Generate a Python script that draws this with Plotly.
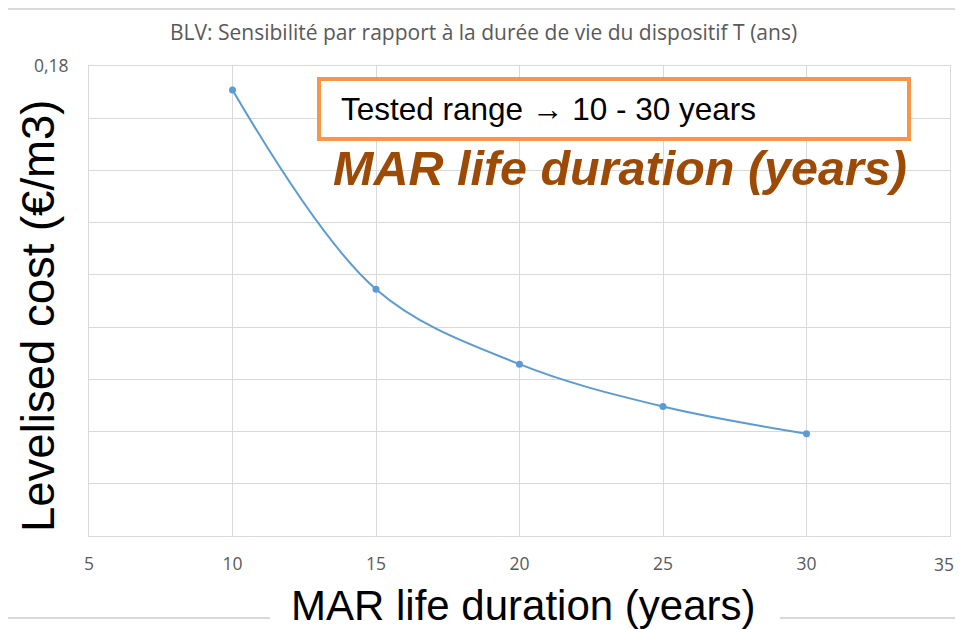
import plotly.graph_objects as go

life_years = [10, 15, 20, 25, 30]
levelised_cost = [0.1708, 0.0945, 0.0658, 0.0496, 0.0392]

y_tickvals = [0.0, 0.02, 0.04, 0.06, 0.08, 0.10, 0.12, 0.14, 0.16, 0.18]
y_ticktext = ["", "", "", "", "", "", "", "", "", "0,18"]
x_tickvals = [5, 10, 15, 20, 25, 30, 35]
x_ticktext = ["5", "10", "15", "20", "25", "30", ""]
x_last_label = "35"

# The page body has an 8px default margin, so the figure is offset by 8px
# and sized so that it does not overflow the 963px-wide window.
OFF = 8
W, H = 963 - 2 * OFF, 629 - OFF
# plot area in page pixels: x 89..950, y 66..536
L, T = 89 - OFF, 66 - OFF
R = (W + OFF) - 950
B = (H + OFF) - 536
PW, PH = W - L - R, H - T - B


def px(x):
    return (x - OFF - L) / PW


def py(y):
    return (H - B - (y - OFF)) / PH


fig = go.Figure()
fig.add_trace(go.Scatter(
    x=life_years, y=levelised_cost, mode="lines+markers",
    line=dict(color="#5B9BD5", width=2, shape="spline", smoothing=1),
    marker=dict(color="#5B9BD5", size=7),
    showlegend=False, hoverinfo="x+y",
))

grid = "#D9D9D9"
tickfont = dict(family="Open Sans, sans-serif", size=17.5, color="#595959")
fig.update_layout(
    width=W, height=H,
    margin=dict(l=L, r=R, t=T, b=B),
    paper_bgcolor="white", plot_bgcolor="white",
    font=dict(family="Open Sans, sans-serif", color="#595959"),
    xaxis=dict(range=[5, 35], tickvals=x_tickvals, ticktext=x_ticktext, showgrid=True,
               gridcolor=grid, gridwidth=1, zeroline=False, showline=True, linecolor=grid,
               mirror=True, ticks="", tickfont=tickfont, ticklabelstandoff=12),
    yaxis=dict(range=[0, 0.18], tickvals=y_tickvals, ticktext=y_ticktext, showgrid=True,
               gridcolor=grid, gridwidth=1, zeroline=False, showline=True, linecolor=grid,
               mirror=True, ticks="", tickfont=tickfont, ticklabelstandoff=16),
)

# last x tick label, nudged so that it stays inside the window
fig.add_annotation(text=x_last_label, xref="x", yref="paper", x=x_tickvals[-1], y=py(564),
                   xshift=-6, showarrow=False, xanchor="center", yanchor="middle",
                   font=tickfont)

# chart title
fig.add_annotation(text="BLV: Sensibilité par rapport à la durée de vie du dispositif T (ans)",
                   xref="paper", yref="paper", x=px(483), y=py(32), showarrow=False,
                   font=dict(family="Open Sans, sans-serif", size=21, color="#595959"),
                   xanchor="center", yanchor="middle")

# frame lines
fig.add_shape(type="line", xref="paper", yref="paper", x0=px(0), x1=px(963),
              y0=py(9), y1=py(9), line=dict(color="#D9D9D9", width=2))
fig.add_shape(type="line", xref="paper", yref="paper", x0=px(0), x1=px(270),
              y0=py(618), y1=py(618), line=dict(color="#D9D9D9", width=2))
fig.add_shape(type="line", xref="paper", yref="paper", x0=px(780), x1=px(963),
              y0=py(618), y1=py(618), line=dict(color="#D9D9D9", width=2))

# orange box
fig.add_shape(type="rect", xref="paper", yref="paper", x0=px(319), x1=px(909),
              y0=py(139), y1=py(79), line=dict(color="#F79646", width=4),
              fillcolor="white")
fig.add_annotation(text="Tested range → 10 - 30 years", xref="paper", yref="paper",
                   x=px(339), y=py(109), showarrow=False, xanchor="left", yanchor="middle",
                   font=dict(family="Liberation Sans, Arial, sans-serif", size=31.5, color="black"))
fig.add_annotation(text="<b><i>MAR life duration (years)</i></b>", xref="paper", yref="paper",
                   x=px(620), y=py(168), showarrow=False, xanchor="center", yanchor="middle",
                   font=dict(family="Liberation Sans, Arial, sans-serif", size=48.5, color="#9C4A06"))

# axis titles
fig.add_annotation(text="Levelised cost (€/m3)", xref="paper", yref="paper",
                   x=px(38), y=py(316), showarrow=False, textangle=-90,
                   xanchor="center", yanchor="middle", bgcolor="white", borderpad=2,
                   font=dict(family="Liberation Sans, Arial, sans-serif", size=45.5, color="black"))
fig.add_annotation(text="MAR life duration (years)", xref="paper", yref="paper",
                   x=px(523), y=py(605), showarrow=False,
                   xanchor="center", yanchor="middle", bgcolor="white", borderpad=0,
                   font=dict(family="Liberation Sans, Arial, sans-serif", size=42, color="black"))

fig.write_html("out.html")
